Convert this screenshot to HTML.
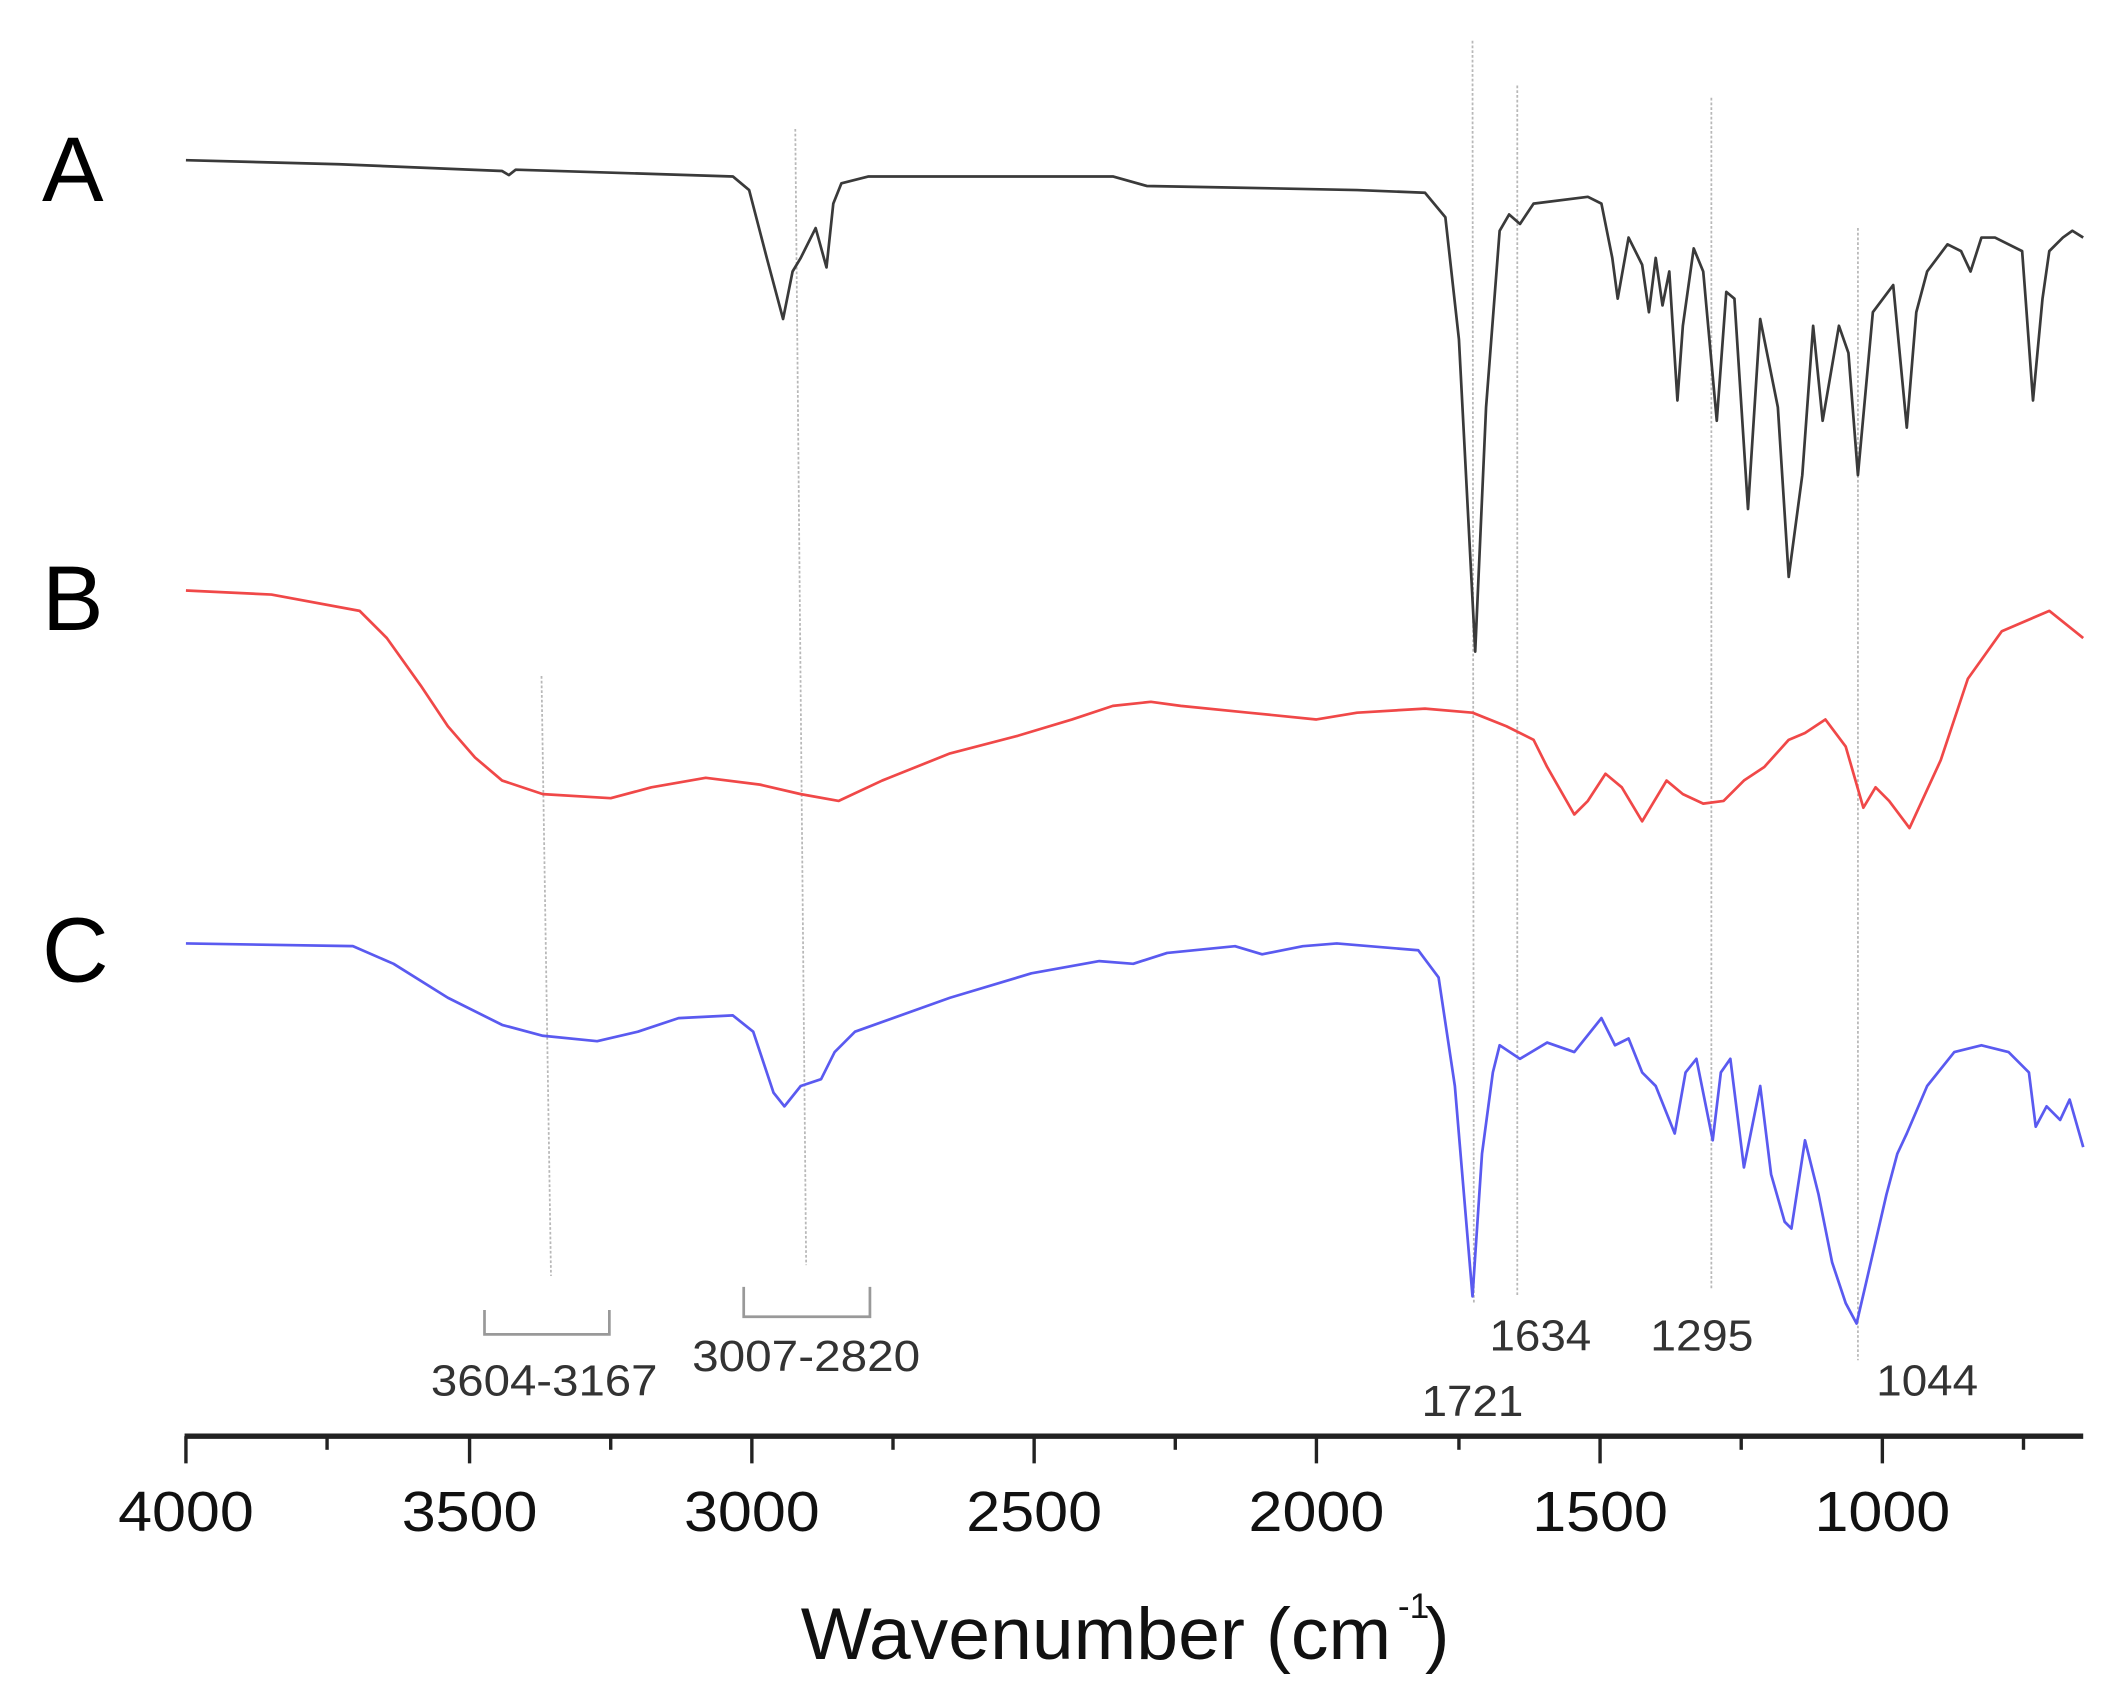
<!DOCTYPE html>
<html><head><meta charset="utf-8"><style>
html,body{margin:0;padding:0;background:#fff;}
svg{display:block;}
text{font-family:"Liberation Sans",sans-serif;}
</style></head><body>
<svg width="2128" height="1705" viewBox="0 0 1568 1256" preserveAspectRatio="none" xmlns="http://www.w3.org/2000/svg">
<rect width="1568" height="1256" fill="#fff"/>
<g stroke="#b8b8b8" stroke-width="1.3" stroke-dasharray="2,1.5" fill="none">
<line x1="1085" y1="30" x2="1086" y2="960"/>
<line x1="1118" y1="63" x2="1118" y2="955"/>
<line x1="1261" y1="72" x2="1261" y2="950"/>
<line x1="1369" y1="168" x2="1369" y2="1002"/>
<line x1="586" y1="95" x2="594" y2="932"/>
<line x1="399" y1="498" x2="406" y2="940"/>
</g>
<g stroke="#999" stroke-width="2" fill="none">
<polyline points="357,965 357,983 449,983 449,965"/>
<polyline points="548,948 548,970 641,970 641,948"/>
</g>
<g fill="#333" font-size="32" text-anchor="middle" lengthAdjust="spacingAndGlyphs">
<text x="401" y="1028" textLength="167" lengthAdjust="spacingAndGlyphs">3604-3167</text>
<text x="594" y="1010" textLength="168" lengthAdjust="spacingAndGlyphs">3007-2820</text>
<text x="1085" y="1043" textLength="75" lengthAdjust="spacingAndGlyphs">1721</text>
<text x="1135" y="995" textLength="75" lengthAdjust="spacingAndGlyphs">1634</text>
<text x="1254" y="995" textLength="76" lengthAdjust="spacingAndGlyphs">1295</text>
<text x="1420" y="1028" textLength="75" lengthAdjust="spacingAndGlyphs">1044</text>
</g>
<g font-size="68" fill="#000">
<text x="31" y="148">A</text>
<text x="31" y="464">B</text>
<text x="31" y="723">C</text>
</g>
<polyline fill="none" stroke="#3a3a3a" stroke-width="2" stroke-linejoin="round" points="137,118 250,121 370,126 375,129 380,125 540,130 552,140 565,190 577,235 584,200 590,190 601,168 609,197 614,150 620,135 640,130 820,130 845,137 900,138 1000,140 1050,142 1065,160 1075,250 1087,480 1095,300 1105,170 1112,158 1120,165 1130,150 1170,145 1180,150 1188,190 1192,220 1200,175 1210,195 1215,230 1220,190 1225,225 1230,200 1236,295 1240,240 1248,183 1255,200 1265,310 1272,215 1278,220 1288,375 1297,235 1310,300 1318,425 1328,350 1336,240 1343,310 1355,240 1362,260 1369,350 1380,230 1395,210 1405,315 1412,230 1420,200 1435,180 1445,185 1452,200 1460,175 1470,175 1490,185 1498,295 1505,220 1510,185 1520,175 1527,170 1535,175"/>
<polyline fill="none" stroke="#f04848" stroke-width="2" stroke-linejoin="round" points="137,435 200,438 265,450 285,470 310,505 330,535 350,558 370,575 400,585 450,588 480,580 520,573 560,578 590,585 618,590 650,575 700,555 750,542 790,530 820,520 848,517 870,520 920,525 970,530 1000,525 1050,522 1085,525 1110,535 1130,545 1140,565 1160,600 1170,590 1183,570 1195,580 1210,605 1228,575 1240,585 1255,592 1270,590 1285,575 1300,565 1318,545 1330,540 1345,530 1360,550 1373,595 1382,580 1392,590 1407,610 1430,560 1450,500 1475,465 1510,450 1535,470"/>
<polyline fill="none" stroke="#5a5af0" stroke-width="2" stroke-linejoin="round" points="137,695 260,697 290,710 330,735 370,755 400,763 440,767 470,760 500,750 540,748 555,760 570,805 578,815 590,800 605,795 615,775 630,760 700,735 760,717 810,708 835,710 860,702 910,697 930,703 960,697 985,695 1045,700 1060,720 1072,800 1085,955 1092,850 1100,790 1105,770 1120,780 1140,768 1160,775 1180,750 1190,770 1200,765 1210,790 1220,800 1228,820 1234,835 1242,790 1250,780 1262,840 1268,790 1275,780 1285,860 1297,800 1305,865 1315,900 1320,905 1330,840 1340,880 1350,930 1360,960 1368,975 1375,945 1390,880 1398,850 1405,835 1420,800 1440,775 1460,770 1480,775 1495,790 1500,830 1508,815 1518,825 1525,810 1535,845"/>
<line x1="136" y1="1058" x2="1535" y2="1058" stroke="#222" stroke-width="4"/>
<g stroke="#222" stroke-width="2.5">
<line x1="137" y1="1058" x2="137" y2="1078"/><line x1="241" y1="1058" x2="241" y2="1068"/>
<line x1="346" y1="1058" x2="346" y2="1078"/><line x1="450" y1="1058" x2="450" y2="1068"/>
<line x1="554" y1="1058" x2="554" y2="1078"/><line x1="658" y1="1058" x2="658" y2="1068"/>
<line x1="762" y1="1058" x2="762" y2="1078"/><line x1="866" y1="1058" x2="866" y2="1068"/>
<line x1="970" y1="1058" x2="970" y2="1078"/><line x1="1075" y1="1058" x2="1075" y2="1068"/>
<line x1="1179" y1="1058" x2="1179" y2="1078"/><line x1="1283" y1="1058" x2="1283" y2="1068"/>
<line x1="1387" y1="1058" x2="1387" y2="1078"/><line x1="1491" y1="1058" x2="1491" y2="1068"/>
</g>
<g font-size="42" fill="#111" text-anchor="middle">
<text x="137" y="1128" textLength="100" lengthAdjust="spacingAndGlyphs">4000</text>
<text x="346" y="1128" textLength="100" lengthAdjust="spacingAndGlyphs">3500</text>
<text x="554" y="1128" textLength="100" lengthAdjust="spacingAndGlyphs">3000</text>
<text x="762" y="1128" textLength="100" lengthAdjust="spacingAndGlyphs">2500</text>
<text x="970" y="1128" textLength="100" lengthAdjust="spacingAndGlyphs">2000</text>
<text x="1179" y="1128" textLength="100" lengthAdjust="spacingAndGlyphs">1500</text>
<text x="1387" y="1128" textLength="100" lengthAdjust="spacingAndGlyphs">1000</text>
</g>
<text x="590" y="1222" font-size="54" fill="#111" textLength="435" lengthAdjust="spacingAndGlyphs">Wavenumber (cm</text>
<text x="1030" y="1192" font-size="26" fill="#111">-1</text>
<text x="1050" y="1222" font-size="54" fill="#111">)</text>
</svg>
</body></html>
